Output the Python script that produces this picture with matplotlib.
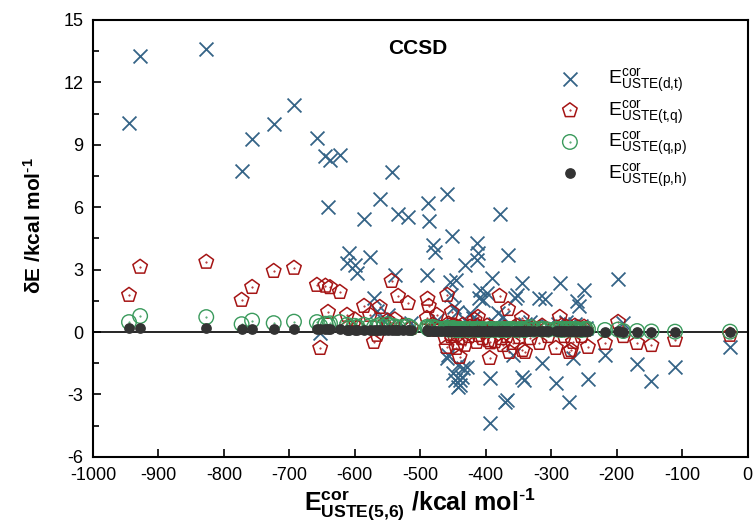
import matplotlib
matplotlib.use('Agg')
import matplotlib.pyplot as plt
from matplotlib.ticker import AutoMinorLocator
from matplotlib.legend_handler import HandlerTuple

plt.rcParams['font.family'] = ['Liberation Sans', 'DejaVu Sans']
plt.rcParams['mathtext.default'] = 'regular'
plt.rcParams['axes.unicode_minus'] = False

# USTE(5,6) correlation energies (kcal/mol) and deviations of the other extrapolations
e_cor = [-945, -928, -827, -773, -757, -724, -693, -658, -653, -645,
         -641, -638, -623, -612, -609, -600, -596, -586, -577, -571,
         -566, -562, -556, -550, -544, -539, -534, -526, -519, -514,
         -490, -489, -487, -481, -478, -475, -469,
         -462, -460, -459, -457, -455, -453, -452, -450, -449, -447,
         -445, -444, -443, -442, -440, -439, -437, -435, -432, -429,
         -426, -424, -420, -417, -414, -413, -412, -411, -409, -405,
         -402, -398, -396, -394, -393, -391, -386, -382, -379, -376,
         -374, -371, -368, -366, -364, -359, -356, -353, -349, -345,
         -344, -342, -340, -336, -332, -327,
         -318, -314, -310, -305,
         -293, -290, -287, -284, -280, -277, -273, -270, -267, -264,
         -261, -258, -254, -250, -247, -244,
         -218, -198, -190, -169, -147, -111, -27]

de_dt = [10.05, 13.27, 13.60, 7.74, 9.28, 10.00, 10.90, 9.33, -0.05, 8.45,
         6.00, 8.27, 8.50, 3.30, 3.80, 3.20, 2.84, 5.43, 3.60, 1.63,
         1.00, 6.40, 0.55, 0.80, 7.70, 2.74, 5.67, 0.30, 5.53, 0.45,
         2.74, 6.20, 5.33, 4.18, 3.85, 0.60, 0.35,
         0.30, 6.63, -1.25, -1.10, 2.40, 1.78, 4.60, -1.97, 1.20, -2.30,
         2.50, 0.96, -1.60, -2.64, -2.30, -2.55, -2.16, -1.73, 3.22, -1.68,
         0.40, 0.91, 0.67, 0.20, 4.28, 3.46, 3.80, 1.63, 2.00, 1.54,
         0.30, 1.87, 0.20, -4.37, -2.20, 2.60, 0.40, 0.91, 5.67, 0.20,
         0.72, -3.37, -3.27, 3.70, 0.30, -1.10, 1.63, 1.78, 0.25, -2.16,
         2.35, -2.30, 0.40, 0.20, 0.50, 0.30,
         1.63, -1.50, 1.59, 0.30,
         -2.45, 0.40, 2.35, 0.30, 0.20, 0.50, -3.37, 0.30, -1.25, 0.40,
         1.47, 1.25, 0.30, 2.00, 0.20, -2.26,
         -1.10, 2.55, 0.43, -1.54, -2.36, -1.68, -0.72]

de_tq = [1.78, 3.13, 3.37, 1.54, 2.16, 2.93, 3.08, 2.26, -0.77, 2.22,
         0.96, 2.15, 1.92, 0.82, 0.25, 0.60, 0.20, 1.25, 0.82, -0.48,
         -0.14, 1.20, 0.35, 0.55, 2.45, 0.60, 1.73, 0.30, 1.39, 0.20,
         0.67, 1.59, 1.25, 0.35, 0.10, 0.82, 0.15,
         -0.29, -0.72, 1.78, 0.40, 0.20, -0.20, 0.96, 0.30, -0.10, 0.15,
         -0.77, 0.25, -0.53, 0.10, -1.20, 0.20, -0.30, 0.35, -0.62, 0.15,
         -0.20, 0.25, 0.10, 0.58, -0.48, 0.30, 0.72, -0.15, 0.20, -0.30,
         0.10, 0.30, -0.40, -1.25, -0.50, 0.20, -0.45, 0.10, 1.73, -0.30,
         -0.63, 0.20, -0.20, 1.10, -0.96, -0.53, 0.15, 0.30, -0.25, 0.67,
         -0.87, 0.20, -0.96, 0.10, -0.30, 0.20,
         -0.53, 0.30, 0.10, -0.20,
         -0.77, 0.20, 0.72, 0.30, -0.20, 0.25, -0.96, -0.87, -0.48, 0.30,
         0.10, 0.20, -0.20, 0.25, 0.10, -0.72,
         -0.53, 0.48, -0.20, -0.53, -0.63, -0.38, -0.14]

de_qp = [0.48, 0.77, 0.72, 0.38, 0.55, 0.43, 0.50, 0.48, 0.30, 0.40,
         0.35, 0.42, 0.48, 0.35, 0.22, 0.30, 0.25, 0.35, 0.30, 0.22,
         0.28, 0.35, 0.25, 0.38, 0.30, 0.28, 0.22, 0.25, 0.30, 0.20,
         0.25, 0.20, 0.15, 0.25, 0.20, 0.18, 0.15,
         0.15, 0.20, 0.18, 0.12, 0.15, 0.12, 0.18, 0.20, 0.15, 0.12,
         0.15, 0.10, 0.12, 0.15, 0.12, 0.10, 0.15, 0.12, 0.15, 0.12,
         0.10, 0.15, 0.12, 0.15, 0.12, 0.15, 0.15, 0.10, 0.12, 0.15,
         0.12, 0.12, 0.10, 0.15, 0.12, 0.15, 0.10, 0.15, 0.12, 0.10,
         0.15, 0.12, 0.10, 0.15, 0.12, 0.15, 0.12, 0.10, 0.15, 0.12,
         0.15, 0.12, 0.10, 0.15, 0.25, 0.12,
         0.15, 0.12, 0.15, 0.12,
         0.15, 0.12, 0.15, 0.10, 0.15, 0.12, 0.15, 0.12, 0.15, 0.12,
         0.15, 0.12, 0.10, 0.15, 0.12, 0.15,
         0.10, 0.12, 0.05, 0.05, 0.03, 0.02, 0.02]

de_ph = [0.19, 0.20, 0.20, 0.14, 0.16, 0.15, 0.16, 0.14, 0.13, 0.14,
         0.13, 0.14, 0.13, 0.12, 0.11, 0.10, 0.10, 0.12, 0.11, 0.09,
         0.10, 0.11, 0.10, 0.12, 0.11, 0.10, 0.10, 0.09, 0.09, 0.08,
         0.08, 0.07, 0.07, 0.07, 0.06, 0.06, 0.06,
         0.06, 0.06, 0.06, 0.05, 0.05, 0.05, 0.06, 0.05, 0.05, 0.05,
         0.05, 0.05, 0.05, 0.05, 0.04, 0.05, 0.05, 0.05, 0.05, 0.05,
         0.04, 0.05, 0.05, 0.05, 0.05, 0.05, 0.05, 0.05, 0.05, 0.05,
         0.04, 0.05, 0.04, 0.05, 0.05, 0.05, 0.05, 0.05, 0.05, 0.04,
         0.05, 0.05, 0.05, 0.05, 0.05, 0.05, 0.05, 0.04, 0.05, 0.05,
         0.05, 0.05, 0.05, 0.05, 0.05, 0.04,
         0.05, 0.05, 0.05, 0.05,
         0.05, 0.05, 0.05, 0.04, 0.05, 0.05, 0.05, 0.05, 0.05, 0.05,
         0.05, 0.05, 0.04, 0.05, 0.05, 0.05,
         0.02, 0.03, 0.02, 0.02, 0.01, 0.01, 0.00]

labels = [r'$E^{cor}_{USTE(d{,}t)}$', r'$E^{cor}_{USTE(t{,}q)}$',
          r'$E^{cor}_{USTE(q{,}p)}$', r'$E^{cor}_{USTE(p{,}h)}$']

blue = '#356487'
red = '#a51414'
green = '#3a9a5c'
dark = '#333333'

fig = plt.figure(figsize=(7.56, 5.24), dpi=100)
ax = fig.add_axes([0.123, 0.128, 0.866, 0.834])

ax.axhline(0, color='black', lw=1.2, zorder=1)

h1 = ax.scatter(e_cor, de_dt, marker='x', s=100, color=blue, linewidths=1.3, zorder=2)
h2 = ax.scatter(e_cor, de_tq, marker='p', s=120, facecolors='none', edgecolors=red, linewidths=1.1, zorder=3)
h2c = ax.scatter(e_cor, de_tq, marker='.', s=1, color=red, zorder=3)
h3 = ax.scatter(e_cor, de_qp, marker='o', s=110, facecolors='none', edgecolors=green, linewidths=1.0, zorder=4)
h3c = ax.scatter(e_cor, de_qp, marker='.', s=1, color=green, zorder=4)
h4 = ax.scatter(e_cor, de_ph, marker='o', s=45, color=dark, zorder=5)

ax.set_xlim(-1000, 0)
ax.set_ylim(-6, 15)
ax.set_xticks(range(-1000, 1, 100))
ax.set_yticks(range(-6, 16, 3))
ax.yaxis.set_minor_locator(AutoMinorLocator(2))
ax.tick_params(which='both', direction='in', top=False, right=False, width=1.2)
ax.tick_params(which='major', length=6, labelsize=13, pad=7)
ax.tick_params(which='minor', length=4)
for sp in ax.spines.values():
    sp.set_linewidth(1.5)

ax.text(0.496, 0.935, 'CCSD', transform=ax.transAxes, ha='center', va='center',
        fontsize=15, fontweight='bold')

ax.set_ylabel(r'δE /kcal mol$^{\text{-}1}$', fontsize=15, fontweight='bold')
ax.yaxis.set_label_coords(-0.073, 0.53)
ax.set_xlabel(r'$E^{cor}_{USTE(5{,}6)}$ /kcal mol$^{\text{-}1}$', fontsize=18,
              fontweight='bold', labelpad=2)

ax.legend([h1, (h2, h2c), (h3, h3c), h4], labels,
          handler_map={tuple: HandlerTuple(ndivide=1)},
          loc='center left', bbox_to_anchor=(0.672, 0.753), frameon=False,
          fontsize=14, handletextpad=0.95, labelspacing=0.2)

fig.savefig('out.png', dpi=100)
